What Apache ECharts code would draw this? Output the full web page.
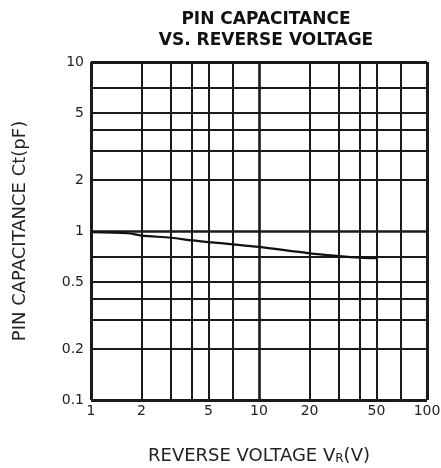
<!DOCTYPE html>
<html>
<head>
<meta charset="utf-8">
<script src="https://cdn.jsdelivr.net/npm/echarts@6/dist/echarts.min.js"></script>
<style>html,body{margin:0;padding:0;background:#fff;}#c{width:441px;height:468px;}</style>
</head>
<body>
<div id="c"></div>
<script>
const xGrid = [1, 2, 3, 4, 5, 7, 10, 20, 30, 40, 50, 70, 100];
const yGrid = [0.1, 0.2, 0.3, 0.4, 0.5, 0.7, 1, 2, 3, 4, 5, 7, 10];
const xTickLabels = [1, 2, 5, 10, 20, 50, 100];
const yTickLabels = [0.1, 0.2, 0.5, 1, 2, 5, 10];
const voltage = [1, 1.65, 2, 3, 4, 5, 7, 10, 20, 30, 40, 50];
const capacitance = [0.985, 0.97, 0.94, 0.912, 0.88, 0.86, 0.834, 0.805, 0.738, 0.711, 0.696, 0.69];

const LINE = '#1a1a1a';
const FONT = 'DejaVu Sans';
const chart = echarts.init(document.getElementById('c'), null, {renderer: 'canvas'});

const vLines = xGrid.map(v => ({
  xAxis: v,
  lineStyle: {color: LINE, type: 'solid', width: (v === 1 || v === 100) ? 3 : (v === 10 ? 2.6 : 2)},
  label: {show: xTickLabels.includes(v), formatter: String(v), position: 'start', distance: 4,
          color: '#222', fontSize: 14, fontFamily: FONT}
}));
const hLines = yGrid.map(v => ({
  yAxis: v,
  lineStyle: {color: LINE, type: 'solid', width: (v === 0.1 || v === 10) ? 3 : (v === 1 ? 2.6 : 2)},
  label: {show: yTickLabels.includes(v), formatter: String(v), position: 'start', distance: 7,
          color: '#222', fontSize: 14, fontFamily: FONT}
}));

chart.setOption({
  animation: false,
  backgroundColor: '#ffffff',
  title: {
    text: 'PIN CAPACITANCE\nVS. REVERSE VOLTAGE',
    left: 261, top: 4, textAlign: 'center',
    textStyle: {fontFamily: FONT, fontWeight: 'bold', fontSize: 17, lineHeight: 21, color: '#111'}
  },
  grid: {left: 91, right: 14, top: 62, bottom: 68, outerBoundsMode: 'none', containLabel: false},
  xAxis: {
    type: 'log', logBase: 10, min: 1, max: 100,
    axisLine: {show: false}, axisTick: {show: false}, axisLabel: {show: false}, splitLine: {show: false},
    name: '{n|REVERSE VOLTAGE V}{s|R}{n|(V)}', nameLocation: 'middle', nameGap: 47,
    nameTextStyle: {rich: {
      n: {fontFamily: FONT, fontSize: 18, color: '#222'},
      s: {fontFamily: FONT, fontSize: 12, color: '#222', verticalAlign: 'bottom', padding: [6, 0, 0, 0]}
    }}
  },
  yAxis: {
    type: 'log', logBase: 10, min: 0.1, max: 10,
    axisLine: {show: false}, axisTick: {show: false}, axisLabel: {show: false}, splitLine: {show: false},
    name: 'PIN CAPACITANCE Ct(pF)', nameLocation: 'middle', nameGap: 62, nameRotate: 90,
    nameTextStyle: {fontFamily: FONT, fontSize: 18, color: '#222'}
  },
  series: [{
    type: 'line',
    data: voltage.map((v, i) => [v, capacitance[i]]),
    smooth: 0.3,
    symbol: 'none',
    lineStyle: {color: '#111', width: 2.2},
    z: 5,
    markLine: {
      silent: true, symbol: 'none', animation: false,
      data: vLines.concat(hLines)
    }
  }]
});
</script>
</body>
</html>
